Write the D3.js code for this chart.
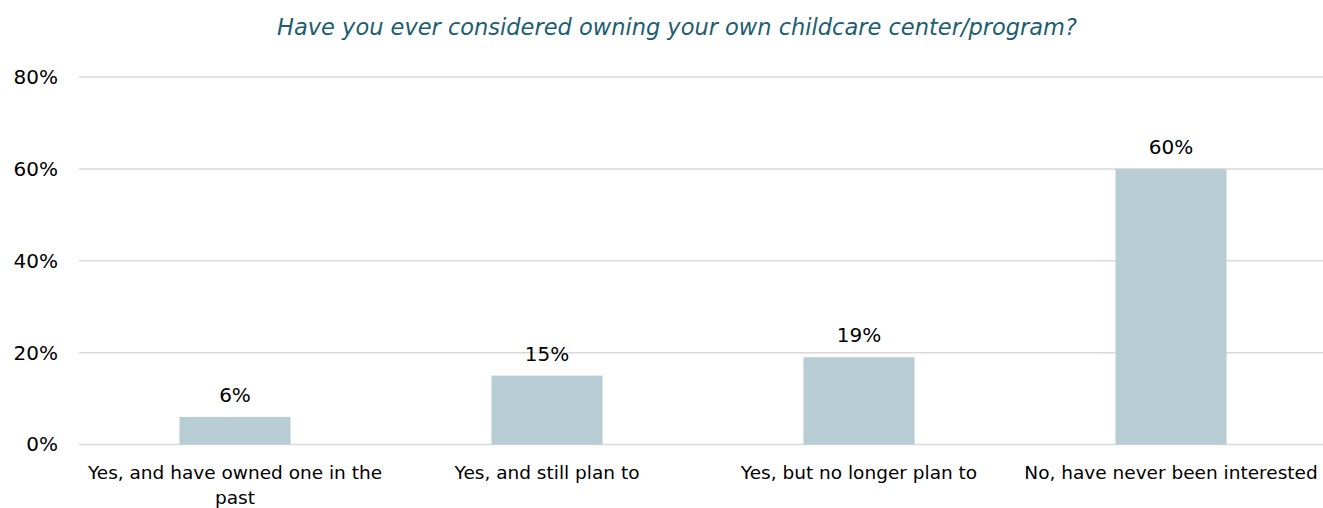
<!DOCTYPE html>
<html>
<head>
<meta charset="utf-8">
<script src="https://cdn.jsdelivr.net/npm/d3@7"></script>
<style>
  html, body { margin: 0; padding: 0; background: #fff; }
  svg { display: block; }
  text { font-family: "DejaVu Sans", "Noto Sans", sans-serif; }
</style>
</head>
<body>
<svg id="chart" width="1323" height="508"></svg>
<script>
// Survey responses
const categories = [
  "Yes, and have owned one in the past",
  "Yes, and still plan to",
  "Yes, but no longer plan to",
  "No, have never been interested"
];
const values = [6, 15, 19, 60];
const yTicks = [0, 20, 40, 60, 80];
const title = "Have you ever considered owning your own childcare center/program?";

const width = 1323, height = 508;
const margin = { top: 77, right: -4, bottom: 63, left: 79 };
const fontFamily = '"DejaVu Sans", "Noto Sans", sans-serif';

const svg = d3.select("#chart");

const x = d3.scaleBand()
  .domain(categories)
  .range([margin.left, width - margin.right])
  .padding(0);

const y = d3.scaleLinear()
  .domain([0, 80])
  .range([height - margin.bottom - 0.5, margin.top]);

const barW = x.bandwidth() * 0.356;

// Title
svg.append("text")
  .attr("x", 677)
  .attr("y", 35)
  .attr("text-anchor", "middle")
  .attr("font-size", 22.5)
  .attr("font-style", "italic")
  .attr("fill", "#1d5d70")
  .text(title);

// Gridlines
svg.append("g")
  .selectAll("line")
  .data(yTicks)
  .join("line")
  .attr("x1", margin.left)
  .attr("x2", width)
  .attr("y1", d => y(d))
  .attr("y2", d => y(d))
  .attr("stroke", "#d9d9d9")
  .attr("stroke-width", 1.5);

// Y axis labels
const yAxis = d3.axisLeft(y)
  .tickValues(yTicks)
  .tickFormat(d => d + "%")
  .tickSize(0)
  .tickPadding(21);

svg.append("g")
  .attr("transform", `translate(${margin.left},0)`)
  .call(yAxis)
  .call(g => g.select(".domain").remove())
  .call(g => g.selectAll("text")
    .attr("font-size", 20)
    .attr("fill", "#000")
    .style("font-family", fontFamily));

// Bars
svg.append("g")
  .selectAll("rect")
  .data(values)
  .join("rect")
  .attr("x", (d, i) => x(categories[i]) + (x.bandwidth() - barW) / 2)
  .attr("y", d => y(d))
  .attr("width", barW)
  .attr("height", d => y(0) - y(d))
  .attr("fill", "#b7cdd3");

// Value labels
svg.append("g")
  .selectAll("text")
  .data(values)
  .join("text")
  .attr("x", (d, i) => x(categories[i]) + x.bandwidth() / 2)
  .attr("y", d => y(d) - 15)
  .attr("text-anchor", "middle")
  .attr("font-size", 20)
  .attr("fill", "#000")
  .text(d => d + "%");

// Category labels, wrapped to the band width
const maxW = x.bandwidth() - 6;
const catG = svg.append("g");
categories.forEach(cat => {
  const cx = x(cat) + x.bandwidth() / 2;
  const t = catG.append("text")
    .attr("x", cx)
    .attr("y", 479)
    .attr("text-anchor", "middle")
    .attr("font-size", 18.5)
    .attr("fill", "#000");
  const words = cat.split(" ");
  let line = [];
  let tspan = t.append("tspan").attr("x", cx).attr("dy", 0);
  words.forEach(w => {
    line.push(w);
    tspan.text(line.join(" "));
    if (tspan.node().getComputedTextLength() > maxW && line.length > 1) {
      line.pop();
      tspan.text(line.join(" "));
      line = [w];
      tspan = t.append("tspan").attr("x", cx).attr("dy", 25).text(w);
    }
  });
});
</script>
</body>
</html>
